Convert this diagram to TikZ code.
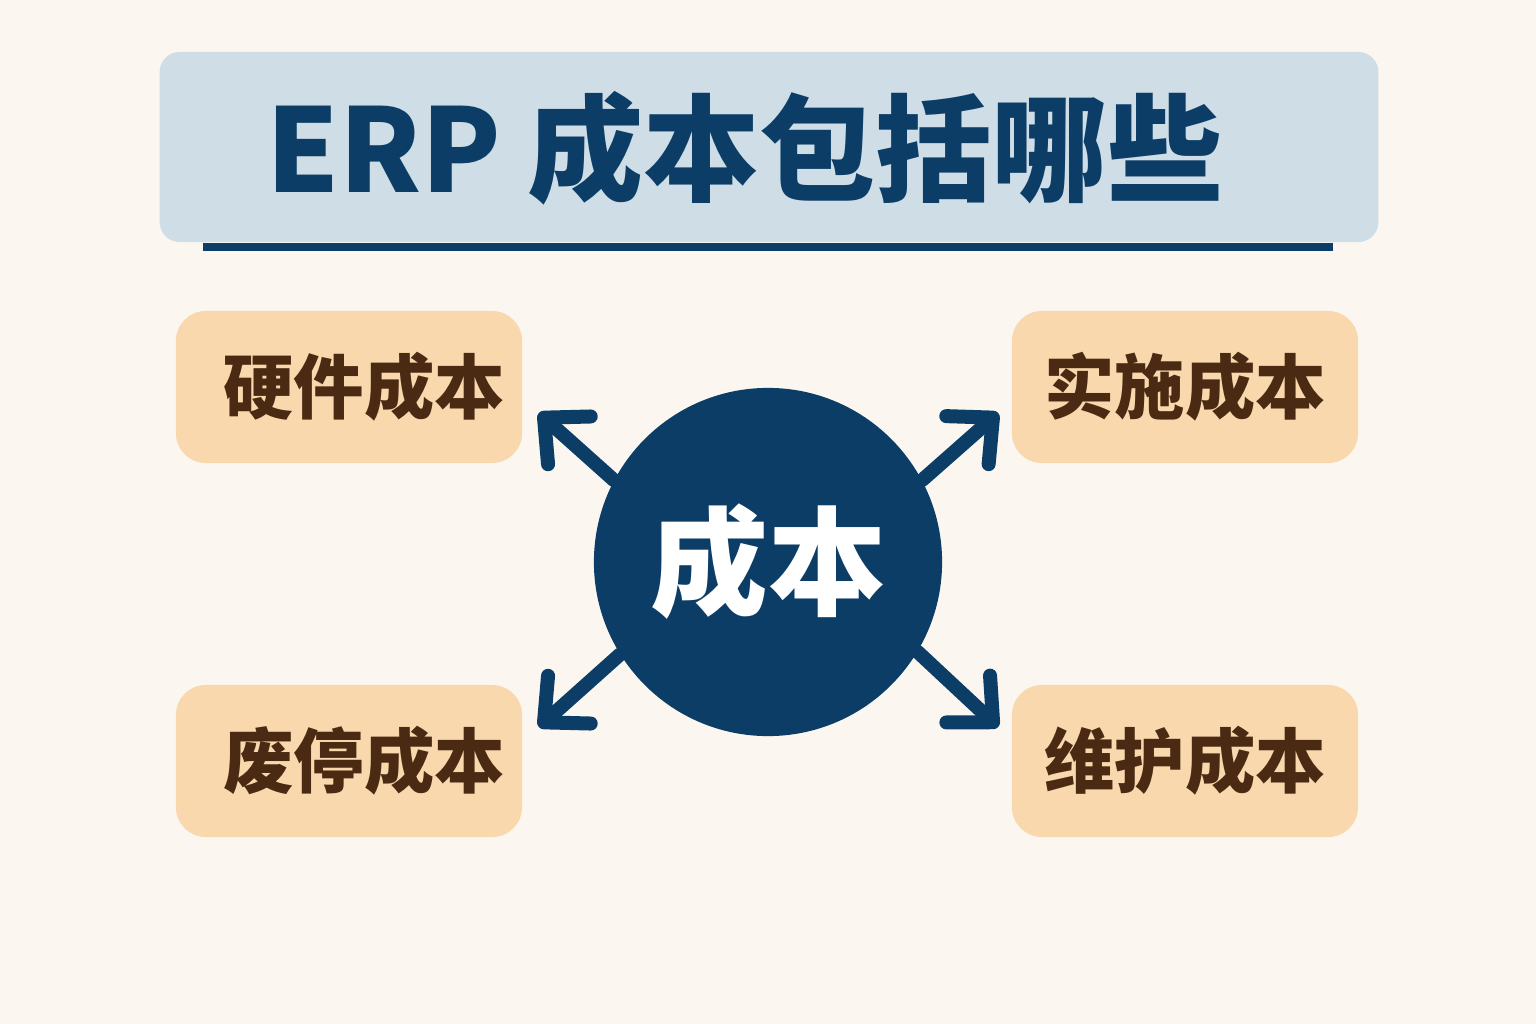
\documentclass[tikz,border=0pt]{standalone}
\usepackage{fontspec}
\setmainfont{Noto Sans CJK SC}
\usepackage{tikz}
\usetikzlibrary{arrows.meta}

\definecolor{bgCream}{HTML}{FBF7F0}
\definecolor{titleFill}{HTML}{CFDDE6}
\definecolor{navyBlue}{HTML}{0B3D66}
\definecolor{boxFill}{HTML}{F8D8AC}
\definecolor{textBrown}{HTML}{4A2A12}

\begin{document}
\begin{tikzpicture}[x=0.01cm,y=-0.01cm]
    \tikzstyle{every node} = [font=\bfseries]
    \tikzstyle{block} = [fill=boxFill, rounded corners=0.3cm, minimum width=3.46cm, minimum height=1.52cm, text=textBrown, font=\fontsize{20}{24}\bfseries]
    \tikzstyle{leftBlock} = [block, execute at begin node=\hspace*{0.3cm}]
    \tikzstyle{costArrow} = [navyBlue, line width=0.14cm, line cap=round, -{Straight Barb[round, length=0.34cm, width=0.64cm]}]
    % background
    \fill[bgCream] (0,0) rectangle (1536,1024);
    \useasboundingbox (0,0) rectangle (1536,1024);
    % title
    \node[fill=titleFill, rounded corners=0.2cm, minimum width=12.18cm, minimum height=1.9cm](titleBox) at (769,147){};
    \node[text=navyBlue, font=\fontsize{33}{38}\bfseries](titleText) at (745,148){ERP 成本包括哪些};
    \draw[navyBlue, line width=0.08cm] (203,247) -- (1333,247);
    % place nodes
    \node[circle, fill=navyBlue, minimum size=3.48cm, inner sep=0pt, text=white, font=\fontsize{33.5}{38}\bfseries](cost) at (768,562){成本};
    \node[leftBlock](hardwareCost) at (349,387){硬件成本};
    \node[block](implCost) at (1185,387){实施成本};
    \node[leftBlock](scrapCost) at (349,761){废停成本};
    \node[block](maintCost) at (1185,761){维护成本};
    % Connections
    \draw[costArrow] (cost.152) -- ([shift={(16,26)}]hardwareCost.east);
    \draw[costArrow] (cost.28) -- ([shift={(-13,26)}]implCost.west);
    \draw[costArrow] (cost.212) -- ([shift={(16,-34)}]scrapCost.east);
    \draw[costArrow] (cost.329) -- ([shift={(-13,-34)}]maintCost.west);
  \end{tikzpicture}
\end{document}
